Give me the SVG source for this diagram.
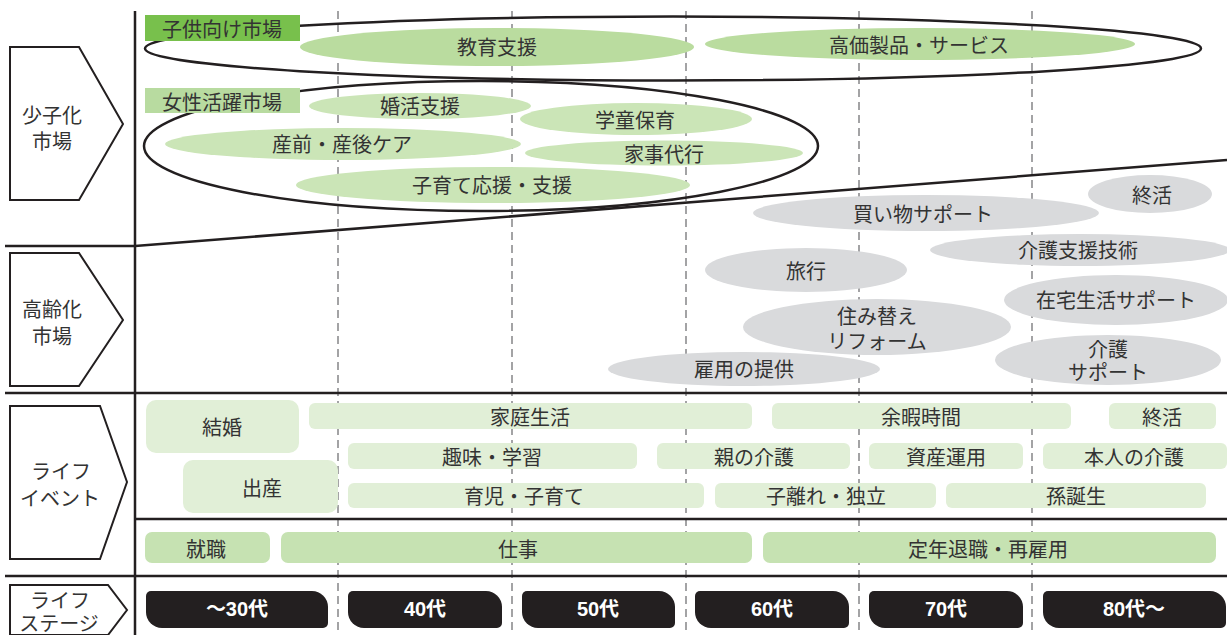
<svg xmlns="http://www.w3.org/2000/svg" width="1227" height="635" viewBox="0 0 1227 635">
<style>
.t{font-family:"Liberation Sans","Noto Sans CJK JP",sans-serif;font-size:20px;fill:#333;text-anchor:middle;dominant-baseline:central;transform:translate(0px,2px)}
.s{font-family:"Liberation Sans","Noto Sans CJK JP",sans-serif;font-size:20px;font-weight:bold;fill:#fff;text-anchor:middle;dominant-baseline:central}
.pent{fill:#fff;stroke:#231f20;stroke-width:2}
.solid{stroke:#231f20;stroke-width:2.5;fill:none}
.dash{stroke:#a3a3a5;stroke-width:2;stroke-dasharray:8 5;fill:none}
.outl{fill:none;stroke:#231f20;stroke-width:2.5}
.g1{fill:#badc9f}
.g2{fill:#cbe5b7}
.gr{fill:#d9dadc}
.ev{fill:#e1efd7}
.wk{fill:#c6e2b2}
.bar{fill:#231f20}
</style>
<rect width="1227" height="635" fill="#fff"/>
<g id="grid">
<line class="dash" x1="338" y1="11" x2="338" y2="635"/>
<line class="dash" x1="512" y1="11" x2="512" y2="635"/>
<line class="dash" x1="686" y1="11" x2="686" y2="635"/>
<line class="dash" x1="859" y1="11" x2="859" y2="635"/>
<line class="dash" x1="1032" y1="11" x2="1032" y2="635"/>
</g>
<g id="sections">
<line class="solid" x1="135" y1="11" x2="135" y2="635"/>
<line class="solid" x1="5" y1="246" x2="135" y2="246"/>
<line class="solid" x1="135" y1="246" x2="1227" y2="160"/>
<line class="solid" x1="5" y1="393" x2="1227" y2="393"/>
<line class="solid" x1="135" y1="519" x2="1227" y2="519"/>
<line class="solid" x1="5" y1="576" x2="1227" y2="576"/>
</g>
<g id="label-shoshika">
<polygon class="pent" points="10,47 79,47 123,124 79,200 10,200"/>
<text class="t" x="52" y="114">少子化<tspan x="52" dy="26">市場</tspan></text>
</g>
<g id="label-koreika">
<polygon class="pent" points="10,253 79,253 123,320 79,386 10,386"/>
<text class="t" x="52" y="308">高齢化<tspan x="52" dy="27">市場</tspan></text>
</g>
<g id="label-lifeevent">
<polygon class="pent" points="10,406 100,406 127,482 100,559 10,559"/>
<text class="t" x="61" y="470">ライフ<tspan x="60" dy="27">イベント</tspan></text>
</g>
<g id="label-lifestage">
<polygon class="pent" points="10,585 108,585 127,610 108,635 10,635"/>
<text class="t" x="60" y="599">ライフ<tspan x="59" dy="23">ステージ</tspan></text>
</g>
<g id="kodomo-market">
<ellipse class="g1" cx="497" cy="47" rx="197" ry="19"/>
<text class="t" x="497" y="46">教育支援</text>
<ellipse class="g1" cx="920" cy="44" rx="215" ry="16"/>
<text class="t" x="919" y="44">高価製品・サービス</text>
<ellipse class="outl" cx="673" cy="48.5" rx="528" ry="32"/>
<rect x="145" y="15" width="155" height="26" fill="#78c04c"/>
<text class="t" x="222" y="28">子供向け市場</text>
</g>
<g id="josei-market">
<ellipse class="g2" cx="420" cy="106" rx="111" ry="13"/>
<text class="t" x="420" y="105">婚活支援</text>
<ellipse class="g2" cx="636" cy="119" rx="116" ry="16"/>
<text class="t" x="635" y="119">学童保育</text>
<ellipse class="g2" cx="343" cy="144" rx="178" ry="16"/>
<text class="t" x="342" y="143">産前・産後ケア</text>
<ellipse class="g2" cx="664" cy="153" rx="139" ry="12.5"/>
<text class="t" x="664" y="153">家事代行</text>
<ellipse class="g2" cx="493" cy="185" rx="197" ry="18"/>
<text class="t" x="492" y="184">子育て応援・支援</text>
<ellipse class="outl" cx="481" cy="146" rx="337" ry="65"/>
<rect x="145" y="88" width="155" height="25" fill="#b8dba0"/>
<text class="t" x="222" y="101">女性活躍市場</text>
</g>
<g id="koreika-market">
<ellipse class="gr" cx="1150" cy="194" rx="62" ry="19"/>
<text class="t" x="1152" y="194">終活</text>
<ellipse class="gr" cx="926" cy="213" rx="173" ry="18"/>
<text class="t" x="923" y="213">買い物サポート</text>
<ellipse class="gr" cx="1080" cy="250" rx="150" ry="16"/>
<text class="t" x="1078" y="249">介護支援技術</text>
<ellipse class="gr" cx="806" cy="270" rx="101" ry="22"/>
<text class="t" x="806" y="270">旅行</text>
<ellipse class="gr" cx="1116" cy="300" rx="112" ry="25"/>
<text class="t" x="1116" y="299">在宅生活サポート</text>
<ellipse class="gr" cx="877" cy="327" rx="134" ry="28"/>
<text class="t" x="877" y="315">住み替え<tspan x="877" dy="25">リフォーム</tspan></text>
<ellipse class="gr" cx="1108" cy="360" rx="113" ry="25"/>
<text class="t" x="1108" y="348">介護<tspan x="1108" dy="23">サポート</tspan></text>
<ellipse class="gr" cx="744" cy="369" rx="136" ry="17"/>
<text class="t" x="744" y="368">雇用の提供</text>
</g>
<g id="life-events">
<rect class="ev" x="146" y="400" width="153" height="53" rx="10"/>
<text class="t" x="222" y="426">結婚</text>
<rect class="ev" x="183" y="460" width="155" height="53" rx="10"/>
<text class="t" x="262" y="487">出産</text>
<rect class="ev" x="309" y="403" width="443" height="26" rx="6"/>
<text class="t" x="530" y="416">家庭生活</text>
<rect class="ev" x="772" y="403" width="299" height="26" rx="6"/>
<text class="t" x="921" y="416">余暇時間</text>
<rect class="ev" x="1109" y="403" width="107" height="26" rx="6"/>
<text class="t" x="1162" y="416">終活</text>
<rect class="ev" x="348" y="443" width="289" height="26" rx="6"/>
<text class="t" x="492" y="456">趣味・学習</text>
<rect class="ev" x="657" y="443" width="193" height="26" rx="6"/>
<text class="t" x="754" y="456">親の介護</text>
<rect class="ev" x="869" y="443" width="154" height="26" rx="6"/>
<text class="t" x="946" y="456">資産運用</text>
<rect class="ev" x="1043" y="443" width="184" height="26" rx="6"/>
<text class="t" x="1134" y="456">本人の介護</text>
<rect class="ev" x="348" y="483" width="356" height="25" rx="6"/>
<text class="t" x="524" y="495">育児・子育て</text>
<rect class="ev" x="715" y="483" width="221" height="25" rx="6"/>
<text class="t" x="826" y="495">子離れ・独立</text>
<rect class="ev" x="946" y="483" width="260" height="25" rx="6"/>
<text class="t" x="1076" y="495">孫誕生</text>
</g>
<g id="work">
<rect class="wk" x="145" y="532" width="125" height="31" rx="7"/>
<text class="t" x="206" y="548">就職</text>
<rect class="wk" x="281" y="532" width="471" height="31" rx="7"/>
<text class="t" x="518" y="548">仕事</text>
<rect class="wk" x="763" y="532" width="453" height="31" rx="7"/>
<text class="t" x="988" y="548">定年退職・再雇用</text>
</g>
<g id="life-stage">
<path class="bar" d="M151,591 H312 A16,16 0 0 1 328,607 V623 A5,5 0 0 1 323,628 H162 A16,16 0 0 1 146,612 V596 A5,5 0 0 1 151,591 Z"/>
<text class="s" x="237" y="609">～30代</text>
<path class="bar" d="M353,591 H486 A16,16 0 0 1 502,607 V623 A5,5 0 0 1 497,628 H364 A16,16 0 0 1 348,612 V596 A5,5 0 0 1 353,591 Z"/>
<text class="s" x="425" y="609">40代</text>
<path class="bar" d="M527,591 H659 A16,16 0 0 1 675,607 V623 A5,5 0 0 1 670,628 H538 A16,16 0 0 1 522,612 V596 A5,5 0 0 1 527,591 Z"/>
<text class="s" x="598" y="609">50代</text>
<path class="bar" d="M700,591 H833 A16,16 0 0 1 849,607 V623 A5,5 0 0 1 844,628 H711 A16,16 0 0 1 695,612 V596 A5,5 0 0 1 700,591 Z"/>
<text class="s" x="772" y="609">60代</text>
<path class="bar" d="M874,591 H1007 A16,16 0 0 1 1023,607 V623 A5,5 0 0 1 1018,628 H885 A16,16 0 0 1 869,612 V596 A5,5 0 0 1 874,591 Z"/>
<text class="s" x="946" y="609">70代</text>
<path class="bar" d="M1048,591 H1210 A16,16 0 0 1 1226,607 V623 A5,5 0 0 1 1221,628 H1059 A16,16 0 0 1 1043,612 V596 A5,5 0 0 1 1048,591 Z"/>
<text class="s" x="1134" y="609">80代～</text>
</g>
</svg>
